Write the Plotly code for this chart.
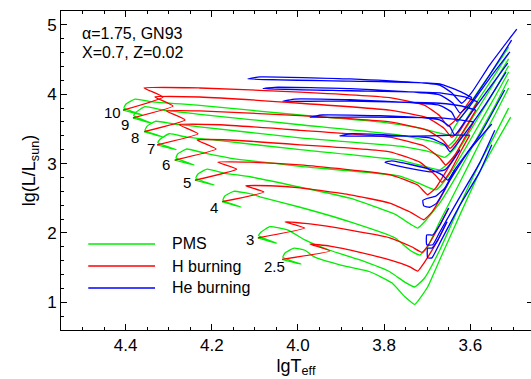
import plotly.graph_objects as go

masses = ["10", "9", "8", "7", "6", "5", "4", "3", "2.5"]

# Pre-main-sequence (green) tracks: lgTeff, lg(L/Lsun)
pms_logT = {
    "10": [3.511, 3.531, 3.555, 3.583, 3.613, 3.636, 3.647, 3.671, 3.717, 3.810, 3.995, 4.228, 4.337, 4.378, 4.399, 4.404, 4.362, 4.406],
    "9": [3.511, 3.543, 3.578, 3.613, 3.636, 3.652, 3.682, 3.763, 3.995, 4.228, 4.313, 4.355, 4.376, 4.381, 4.339, 4.383],
    "8": [3.511, 3.543, 3.578, 3.613, 3.636, 3.659, 3.694, 3.763, 3.995, 4.228, 4.288, 4.330, 4.350, 4.355, 4.313, 4.357],
    "7": [3.511, 3.543, 3.578, 3.613, 3.643, 3.671, 3.706, 3.763, 3.995, 4.181, 4.258, 4.299, 4.320, 4.325, 4.283, 4.327],
    "6": [3.511, 3.543, 3.578, 3.613, 3.652, 3.680, 3.717, 3.763, 3.995, 4.158, 4.216, 4.258, 4.279, 4.283, 4.241, 4.286],
    "5": [3.511, 3.543, 3.578, 3.624, 3.671, 3.706, 3.722, 3.740, 3.775, 3.879, 3.995, 4.111, 4.170, 4.211, 4.232, 4.237, 4.195, 4.239],
    "4": [3.511, 3.543, 3.578, 3.624, 3.671, 3.701, 3.717, 3.740, 3.775, 3.879, 3.995, 4.088, 4.107, 4.149, 4.170, 4.174, 4.132, 4.176],
    "3": [3.511, 3.543, 3.578, 3.624, 3.671, 3.706, 3.729, 3.752, 3.787, 3.856, 3.926, 3.984, 4.023, 4.065, 4.086, 4.091, 4.049, 4.093],
    "2.5": [3.506, 3.543, 3.578, 3.624, 3.671, 3.699, 3.729, 3.752, 3.782, 3.833, 3.903, 3.961, 3.984, 4.009, 4.030, 4.035, 3.993, 4.037],
}
pms_logL = {
    "10": [4.68, 4.49, 4.28, 4.03, 3.74, 3.53, 3.41, 3.44, 3.51, 3.60, 3.70, 3.84, 3.89, 3.93, 3.86, 3.80, 3.70, 3.77],
    "9": [4.59, 4.28, 3.95, 3.60, 3.34, 3.25, 3.31, 3.41, 3.56, 3.71, 3.77, 3.82, 3.74, 3.69, 3.58, 3.66],
    "8": [4.51, 4.18, 3.83, 3.48, 3.22, 3.09, 3.17, 3.25, 3.37, 3.53, 3.57, 3.61, 3.54, 3.48, 3.38, 3.46],
    "7": [4.41, 4.06, 3.70, 3.34, 3.05, 2.91, 2.96, 3.05, 3.20, 3.33, 3.38, 3.43, 3.35, 3.30, 3.20, 3.27],
    "6": [4.32, 3.96, 3.58, 3.20, 2.81, 2.62, 2.71, 2.82, 2.96, 3.08, 3.15, 3.21, 3.14, 3.08, 2.98, 3.05],
    "5": [4.22, 3.83, 3.44, 2.91, 2.43, 2.16, 2.07, 2.13, 2.27, 2.50, 2.66, 2.81, 2.86, 2.92, 2.85, 2.79, 2.69, 2.76],
    "4": [4.09, 3.70, 3.30, 2.73, 2.16, 1.78, 1.68, 1.75, 1.93, 2.16, 2.37, 2.52, 2.56, 2.60, 2.53, 2.47, 2.37, 2.45],
    "3": [3.80, 3.41, 3.01, 2.40, 1.75, 1.35, 1.22, 1.29, 1.44, 1.61, 1.75, 1.90, 2.04, 2.09, 2.01, 1.96, 1.85, 1.93],
    "2.5": [3.67, 3.27, 2.88, 2.26, 1.61, 1.22, 0.97, 1.08, 1.28, 1.44, 1.54, 1.65, 1.75, 1.78, 1.71, 1.65, 1.55, 1.62],
}

# Hydrogen burning (red)
h_logT = {
    "10": [4.406, 4.313, 4.357, 4.228, 3.995, 3.787, 3.706, 3.671, 3.652, 3.634, 3.613, 3.596],
    "9": [4.383, 4.290, 4.332, 4.228, 3.995, 3.787, 3.699, 3.661, 3.643, 3.624, 3.601, 3.583],
    "8": [4.357, 4.262, 4.306, 4.228, 3.995, 3.787, 3.699, 3.664, 3.647, 3.629, 3.606, 3.587],
    "7": [4.327, 4.232, 4.276, 4.181, 3.995, 3.787, 3.706, 3.671, 3.657, 3.636, 3.613, 3.592],
    "6": [4.286, 4.190, 4.234, 4.158, 3.995, 3.787, 3.717, 3.682, 3.666, 3.647, 3.620, 3.601],
    "5": [4.239, 4.142, 4.186, 4.111, 3.995, 3.787, 3.722, 3.699, 3.680, 3.647, 3.624],
    "4": [4.176, 4.079, 4.121, 4.065, 3.995, 3.879, 3.787, 3.736, 3.708, 3.689, 3.659, 3.636],
    "3": [4.093, 3.984, 4.030, 3.972, 3.879, 3.787, 3.736, 3.712, 3.699, 3.671, 3.650],
    "2.5": [4.037, 3.926, 3.972, 3.926, 3.856, 3.787, 3.740, 3.722, 3.706, 3.675, 3.654],
}
h_logL = {
    "10": [3.77, 3.96, 4.09, 4.09, 4.03, 3.95, 3.84, 3.69, 3.54, 3.63, 3.80, 3.95],
    "9": [3.66, 3.83, 3.96, 3.96, 3.87, 3.77, 3.66, 3.51, 3.38, 3.48, 3.70, 3.89],
    "8": [3.46, 3.63, 3.76, 3.76, 3.69, 3.60, 3.48, 3.34, 3.22, 3.34, 3.57, 3.77],
    "7": [3.27, 3.43, 3.56, 3.56, 3.48, 3.38, 3.25, 3.08, 2.98, 3.12, 3.37, 3.60],
    "6": [3.05, 3.21, 3.34, 3.34, 3.27, 3.17, 3.02, 2.84, 2.73, 2.88, 3.20, 3.41],
    "5": [2.76, 2.92, 3.02, 3.02, 2.98, 2.84, 2.69, 2.55, 2.65, 2.98, 3.20],
    "4": [2.45, 2.59, 2.68, 2.68, 2.65, 2.55, 2.43, 2.29, 2.19, 2.30, 2.62, 2.91],
    "3": [1.93, 2.07, 2.16, 2.13, 2.04, 1.93, 1.80, 1.72, 1.81, 2.11, 2.36],
    "2.5": [1.62, 1.74, 1.84, 1.81, 1.72, 1.61, 1.51, 1.45, 1.58, 1.90, 2.16],
}

# Helium burning (blue)
he_logT = {
    "10": [3.596, 3.620, 3.671, 3.879, 4.116, 4.088, 3.879, 3.671, 3.643, 3.620, 3.596, 3.555, 3.492],
    "9": [3.583, 3.613, 3.671, 3.879, 4.081, 4.054, 3.879, 3.671, 3.640, 3.624, 3.601, 3.555, 3.504],
    "8": [3.587, 3.620, 3.671, 3.879, 4.035, 4.007, 3.879, 3.671, 3.643, 3.631, 3.608, 3.555, 3.508],
    "7": [3.592, 3.624, 3.671, 3.833, 3.972, 3.944, 3.810, 3.671, 3.647, 3.636, 3.613, 3.559, 3.513],
    "6": [3.601, 3.636, 3.694, 3.903, 3.877, 3.694, 3.659, 3.647, 3.624, 3.566, 3.517],
    "5": [3.624, 3.643, 3.659, 3.694, 3.763, 3.798, 3.782, 3.694, 3.666, 3.652, 3.636, 3.578, 3.520],
    "4": [3.636, 3.659, 3.680, 3.699, 3.710, 3.708, 3.694, 3.678, 3.647, 3.601, 3.550],
    "3": [3.650, 3.671, 3.687, 3.701, 3.701, 3.687, 3.671, 3.624, 3.578, 3.543],
    "2.5": [3.654, 3.675, 3.689, 3.699, 3.699, 3.689, 3.671, 3.624, 3.578, 3.550],
}
he_logL = {
    "10": [3.95, 4.03, 4.15, 4.19, 4.22, 4.25, 4.22, 4.13, 4.02, 3.87, 4.03, 4.42, 4.94],
    "9": [3.89, 3.96, 4.02, 4.05, 4.08, 4.10, 4.08, 3.99, 3.87, 3.73, 3.86, 4.28, 4.78],
    "8": [3.77, 3.83, 3.87, 3.90, 3.90, 3.93, 3.92, 3.84, 3.74, 3.61, 3.77, 4.23, 4.61],
    "7": [3.60, 3.63, 3.66, 3.67, 3.67, 3.70, 3.69, 3.63, 3.53, 3.41, 3.60, 4.06, 4.45],
    "6": [3.41, 3.41, 3.40, 3.40, 3.43, 3.37, 3.27, 3.17, 3.34, 3.84, 4.32],
    "5": [3.20, 3.02, 2.91, 2.88, 2.96, 3.02, 3.04, 2.92, 2.84, 2.76, 2.91, 3.41, 4.06],
    "4": [2.91, 2.65, 2.53, 2.50, 2.47, 2.39, 2.37, 2.43, 2.76, 3.20, 3.57],
    "3": [2.36, 2.11, 1.97, 1.97, 1.83, 1.83, 2.01, 2.52, 3.01, 3.48],
    "2.5": [2.16, 1.90, 1.78, 1.78, 1.64, 1.64, 1.85, 2.40, 2.88, 3.27],
}

# mass label anchor positions (right edge of text)
label_logT = [4.406, 4.388, 4.364, 4.327, 4.292, 4.244, 4.181, 4.098, 4.026]
label_logL = [3.74, 3.57, 3.38, 3.22, 2.99, 2.72, 2.36, 1.90, 1.51]

phase_names = ["PMS", "H burning", "He burning"]
phase_colors = ["#00ee00", "#ff0000", "#0000ff"]

FONT = "Liberation Sans, Arial, sans-serif"
fig = go.Figure()
phases = [(pms_logT, pms_logL), (h_logT, h_logL), (he_logT, he_logL)]
for pi, ((xs, ys), color, name) in enumerate(zip(phases, phase_colors, phase_names)):
    for m in masses:
        # the last He-burning track is bound to the (identical) right-hand y axis so its ticks are drawn
        yax = "y2" if (pi == 2 and m == masses[-1]) else "y"
        fig.add_trace(go.Scatter(
            x=xs[m], y=ys[m], mode="lines", name=name, yaxis=yax,
            line=dict(color=color, width=1.3, shape="spline", smoothing=0.4),
            showlegend=False, hoverinfo="skip",
        ))

annotations = []
for m, lx, ly in zip(masses, label_logT, label_logL):
    annotations.append(dict(x=lx, y=ly, xref="x", yref="y", text=m, showarrow=False,
                            xanchor="right", yanchor="middle", font=dict(size=15, family=FONT, color="black")))

annotations.append(dict(x=0.040, y=0.928, xref="paper", yref="paper", text="\u03b1=1.75, GN93",
                        showarrow=False, xanchor="left", yanchor="middle",
                        font=dict(size=16, family=FONT, color="black")))
annotations.append(dict(x=0.040, y=0.870, xref="paper", yref="paper", text="X=0.7, Z=0.02",
                        showarrow=False, xanchor="left", yanchor="middle",
                        font=dict(size=16, family=FONT, color="black")))

# manual legend
shapes = []
leg_y = [0.2696, 0.2006, 0.1317]
for name, color, yy in zip(phase_names, phase_colors, leg_y):
    shapes.append(dict(type="line", xref="paper", yref="paper", x0=0.058, x1=0.200, y0=yy, y1=yy,
                       line=dict(color=color, width=1.3)))
    annotations.append(dict(x=0.232, y=yy, xref="paper", yref="paper", text=name, showarrow=False,
                            xanchor="left", yanchor="middle", font=dict(size=16, family=FONT, color="black")))

axis_common = dict(
    showgrid=False, zeroline=False, showline=True, linecolor="black", linewidth=1,
    ticks="inside", ticklen=6, tickwidth=1, tickcolor="black",
    tickfont=dict(size=17, family=FONT, color="black"),
)
fig.update_layout(
    width=531, height=379, autosize=False,
    margin=dict(l=61, r=0, t=11, b=49),
    paper_bgcolor="white", plot_bgcolor="white",
    showlegend=False,
    annotations=annotations, shapes=shapes,
    xaxis=dict(range=[4.55, 3.459], tick0=3.6, dtick=0.2, tickformat=".1f", mirror="ticks",
               minor=dict(dtick=0.05, ticks="inside", ticklen=3, tickcolor="black"),
               title=dict(text="lgT<sub>eff</sub>", font=dict(size=18, family=FONT, color="black"), standoff=4),
               **axis_common),
    yaxis=dict(range=[0.6, 5.2], tick0=0, dtick=1, mirror=False,
               minor=dict(dtick=0.2, ticks="inside", ticklen=3, tickcolor="black"),
               title=dict(text="lg(L/L<sub>sun</sub>)", font=dict(size=18, family=FONT, color="black"), standoff=6),
               **axis_common),
    yaxis2=dict(range=[0.6, 5.2], tick0=0, dtick=1, overlaying="y", side="right", anchor="x",
                showline=False, showgrid=False, zeroline=False, showticklabels=False,
                ticks="inside", ticklen=4, tickwidth=1, tickcolor="black"),
)
fig.write_html("out.html")
